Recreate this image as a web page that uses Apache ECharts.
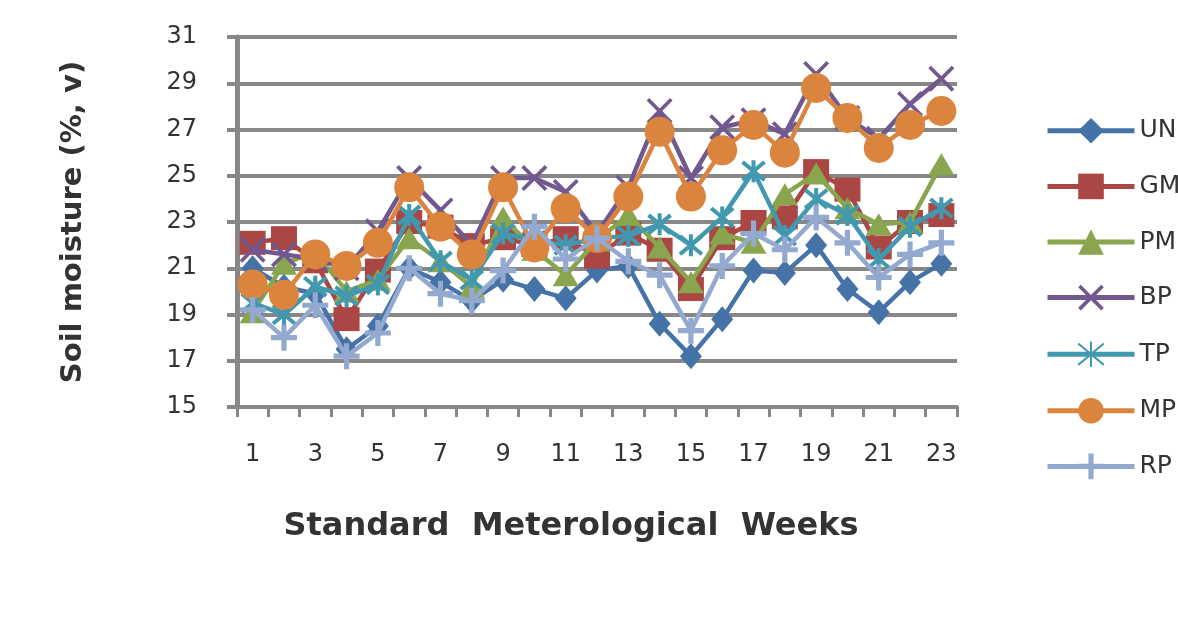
<!DOCTYPE html>
<html>
<head>
<meta charset="utf-8">
<script src="https://cdn.jsdelivr.net/npm/echarts@6/dist/echarts.min.js"></script>
<style>
  html, body { margin: 0; padding: 0; background: #ffffff; }
  #chart { width: 1178px; height: 619px; }
</style>
</head>
<body>
<div id="chart"></div>
<script>
// Standard meteorological weeks
const weeks = ['1','2','3','4','5','6','7','8','9','10','11','12','13','14','15','16','17','18','19','20','21','22','23'];

// Soil moisture (%, v) per treatment
const UN = [21.0, 20.2, 19.9, 17.5, 18.5, 21.0, 20.4, 19.6, 20.5, 20.1, 19.7, 20.9, 21.1, 18.6, 17.2, 18.8, 20.9, 20.8, 22.0, 20.1, 19.1, 20.4, 21.2];
const GM = [22.1, 22.3, 21.3, 18.8, 20.9, 23.0, 22.8, 22.0, 22.3, 22.0, 22.3, 21.5, 22.5, 21.8, 20.1, 22.3, 23.0, 23.2, 25.2, 24.4, 21.9, 23.0, 23.3];
const PM = [19.1, 21.2, 21.7, 20.0, 20.5, 22.3, 21.3, 20.2, 23.2, 21.8, 20.7, 22.2, 23.3, 21.9, 20.4, 22.5, 22.1, 24.2, 25.1, 23.6, 22.9, 23.0, 25.5];
const BP = [21.8, 21.6, 21.4, 21.0, 22.6, 24.9, 23.5, 22.0, 24.9, 24.9, 24.3, 22.5, 24.5, 27.8, 24.9, 27.1, 27.4, 26.8, 29.4, 27.5, 26.6, 28.1, 29.2];
const TP = [19.5, 19.0, 20.2, 19.8, 20.3, 23.3, 21.3, 20.5, 22.5, 22.2, 22.0, 22.3, 22.4, 22.9, 22.0, 23.2, 25.2, 22.4, 24.0, 23.3, 21.4, 22.8, 23.6];
const MP = [20.3, 19.85, 21.6, 21.1, 22.1, 24.5, 22.8, 21.6, 24.5, 21.9, 23.6, 22.3, 24.1, 26.9, 24.1, 26.1, 27.2, 26.0, 28.8, 27.5, 26.2, 27.2, 27.8];
const RP = [19.2, 18.0, 19.4, 17.2, 18.2, 21.0, 19.9, 19.6, 20.9, 22.8, 21.4, 22.3, 21.3, 20.7, 18.3, 21.1, 22.5, 21.8, 23.2, 22.1, 20.6, 21.6, 22.1];

const seriesNames = ['UN', 'GM', 'PM', 'BP', 'TP', 'MP', 'RP'];
const seriesData = [UN, GM, PM, BP, TP, MP, RP];

// marker shapes
const X_MARK = 'path://M1,0L5,4L9,0L10,1L6,5L10,9L9,10L5,6L1,10L0,9L4,5L0,1Z';
const STAR_MARK = 'path://M0,0L10,10M10,0L0,10M5,-1L5,11';
const PLUS_MARK = 'path://M4,0H6V4H10V6H6V10H4V6H0V4H4Z';

const styles = [
  { color: '#4572A7', symbol: 'diamond',  size: [22, 26] },
  { color: '#AA4643', symbol: 'rect',     size: [26, 24] },
  { color: '#89A54E', symbol: 'triangle', size: [26, 22] },
  { color: '#71588F', symbol: X_MARK,     size: 26 },
  { color: '#4198AF', symbol: STAR_MARK,  size: 22, stroke: true },
  { color: '#DB843D', symbol: 'circle',   size: 30 },
  { color: '#93A9CF', symbol: PLUS_MARK,  size: 26 }
];

const labelFont = { fontFamily: 'DejaVu Sans', fontSize: 24, color: '#333333' };

const chart = echarts.init(document.getElementById('chart'), null, { renderer: 'canvas' });

chart.setOption({
  animation: false,
  backgroundColor: '#ffffff',
  grid: { left: 237, right: 221, top: 37, bottom: 212, containLabel: false },
  legend: {
    orient: 'vertical',
    left: 1040,
    top: 113,
    itemWidth: 87,
    itemHeight: 32,
    itemGap: 30,
    data: seriesNames,
    lineStyle: { width: 5 },
    textStyle: { fontFamily: 'DejaVu Sans', fontSize: 25, color: '#333333' }
  },
  xAxis: {
    type: 'category',
    data: weeks,
    boundaryGap: true,
    name: 'Standard  Meterological  Weeks',
    nameLocation: 'middle',
    nameGap: 104,
    nameTextStyle: {
      fontFamily: 'DejaVu Sans', fontWeight: 'bold', fontSize: 32, color: '#333333',
      padding: [0, 52, 0, 0]
    },
    axisLine: { lineStyle: { color: '#878787', width: 4 } },
    axisTick: { show: true, interval: 0, length: 10, lineStyle: { color: '#878787', width: 3 } },
    axisLabel: Object.assign({ interval: 1, margin: 36 }, labelFont),
    splitLine: { show: false }
  },
  yAxis: {
    type: 'value',
    min: 15,
    max: 31,
    interval: 2,
    name: 'Soil moisture (%, v)',
    nameLocation: 'middle',
    nameGap: 149,
    nameRotate: 90,
    nameTextStyle: { fontFamily: 'DejaVu Sans', fontWeight: 'bold', fontSize: 29, color: '#333333' },
    axisLine: { show: true, lineStyle: { color: '#878787', width: 5 } },
    axisTick: { show: true, inside: false, length: 10, lineStyle: { color: '#878787', width: 4 } },
    axisLabel: Object.assign({ margin: 40 }, labelFont),
    splitLine: { show: true, lineStyle: { color: '#878787', width: 4 } }
  },
  series: seriesNames.map((name, i) => {
    const st = styles[i];
    return {
      name: name,
      type: 'line',
      data: seriesData[i],
      symbol: st.symbol,
      symbolSize: st.size,
      showAllSymbol: true,
      lineStyle: { color: st.color, width: 4.5 },
      itemStyle: st.stroke
        ? { color: 'rgba(0,0,0,0)', borderColor: st.color, borderWidth: 4 }
        : { color: st.color, borderWidth: 0 },
      emphasis: { disabled: true },
      z: 2 + i
    };
  })
});
</script>
</body>
</html>
